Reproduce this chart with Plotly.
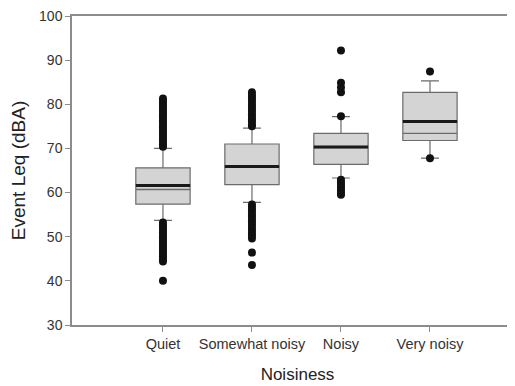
import plotly.graph_objects as go

categories = ["Quiet", "Somewhat noisy", "Noisy", "Very noisy"]
q1 = [57.4, 61.8, 66.4, 71.8]
median = [61.6, 65.9, 70.3, 76.1]
q3 = [65.6, 71.0, 73.4, 82.7]
mean = [60.7, 65.8, 70.2, 73.4]
lower_whisker = [53.7, 57.8, 63.3, 67.8]
upper_whisker = [70.0, 74.6, 77.2, 85.3]

outliers_quiet = [70.4, 70.9, 71.5, 72.0, 72.6, 73.1, 73.7, 74.2, 74.8, 75.3, 75.9,
                  76.4, 77.0, 77.5, 78.1, 78.6, 79.2, 79.7, 80.3, 80.8, 81.3,
                  53.2, 52.6, 52.1, 51.5, 51.0, 50.4, 49.9, 49.3, 48.8, 48.2, 47.7,
                  47.1, 46.6, 46.0, 45.5, 44.9, 44.4, 40.0]
outliers_somewhat = [75.0, 75.5, 76.1, 76.6, 77.2, 77.7, 78.3, 78.8, 79.4, 79.9,
                     80.5, 81.0, 81.6, 82.1, 82.7,
                     57.3, 56.8, 56.2, 55.7, 55.1, 54.6, 54.0, 53.5, 52.9, 52.4,
                     51.8, 51.3, 50.7, 50.2, 49.6, 46.4, 43.6]
outliers_noisy = [77.3, 82.7, 83.8, 84.9, 92.2,
                  62.9, 62.3, 61.7, 61.1, 60.5, 59.9, 59.5]
outliers_very = [87.4, 67.8]
outliers = [outliers_quiet, outliers_somewhat, outliers_noisy, outliers_very]

BOX_WIDTH = 0.61
positions = list(range(len(categories)))

fig = go.Figure()

fig.add_trace(go.Box(
    x=positions, q1=q1, median=median, q3=q3,
    lowerfence=lower_whisker, upperfence=upper_whisker,
    width=BOX_WIDTH, whiskerwidth=0.33, boxpoints=False,
    fillcolor="#d4d4d4", line=dict(color="#6b6b6b", width=1.2),
    hoverinfo="skip", showlegend=False,
))

def segments(values):
    xs, ys = [], []
    for i, v in zip(positions, values):
        xs += [i - BOX_WIDTH / 2, i + BOX_WIDTH / 2, None]
        ys += [v, v, None]
    return xs, ys

mx, my = segments(mean)
fig.add_trace(go.Scatter(x=mx, y=my, mode="lines",
                         line=dict(color="#6b6b6b", width=1.3),
                         showlegend=False, hoverinfo="skip"))
dx, dy = segments(median)
fig.add_trace(go.Scatter(x=dx, y=dy, mode="lines",
                         line=dict(color="#1a1a1a", width=3),
                         showlegend=False, hoverinfo="skip"))

ox, oy = [], []
for i, vals in zip(positions, outliers):
    ox += [i] * len(vals)
    oy += vals
fig.add_trace(go.Scatter(x=ox, y=oy, mode="markers",
                         marker=dict(color="#111111", size=8),
                         showlegend=False, hoverinfo="skip"))

FONT = "Liberation Sans, Arial, sans-serif"
fig.update_layout(
    width=515, height=386,
    margin=dict(l=64, r=0, t=8, b=69),
    paper_bgcolor="white", plot_bgcolor="white",
    font=dict(family=FONT),
    xaxis=dict(
        range=[-1.022, 4.045], tickmode="array", tickvals=positions, ticktext=categories,
        showgrid=False, zeroline=False, showline=True, mirror=True,
        linecolor="#8c8c8c", linewidth=1.5, ticks="outside", ticklen=5,
        tickcolor="#8c8c8c", tickfont=dict(family=FONT, size=14.5, color="#333333"),
        title=dict(text="Noisiness", font=dict(family=FONT, size=17, color="#222222"),
                   standoff=17),
    ),
    yaxis=dict(
        range=[30, 100], dtick=10, showgrid=False, zeroline=False, showline=True,
        linecolor="#8c8c8c", linewidth=1.5, ticks="outside", ticklen=5,
        tickcolor="#8c8c8c", tickfont=dict(family=FONT, size=14, color="#333333"),
        ticklabeloverflow="allow",
        title=dict(text="Event Leq (dBA)", font=dict(family=FONT, size=19, color="#222222"),
                   standoff=18),
    ),
)

fig.write_html("out.html")
